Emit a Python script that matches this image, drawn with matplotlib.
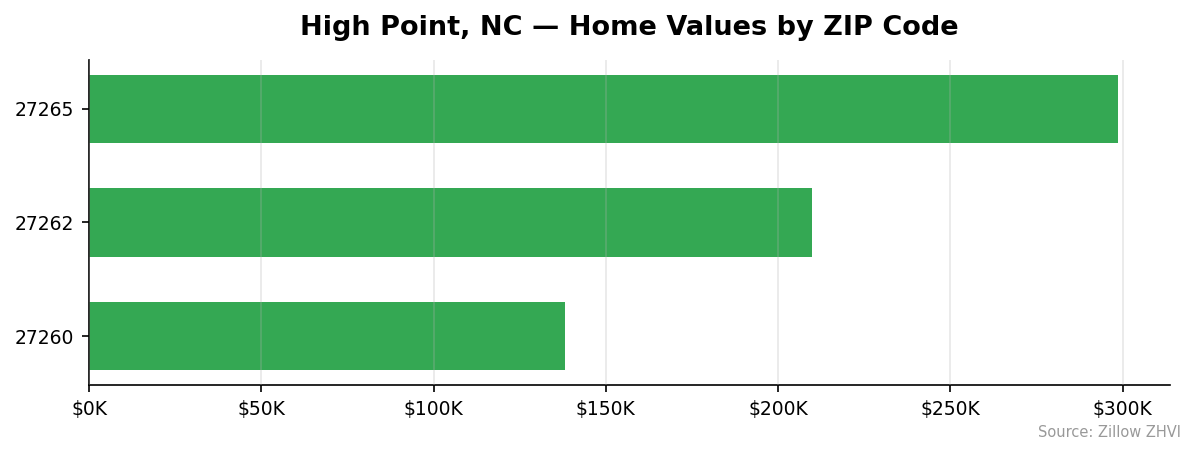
import matplotlib.pyplot as plt
from matplotlib.ticker import FuncFormatter

zips = ['27260', '27262', '27265']
values = [138200, 209900, 298800]

fig, ax = plt.subplots(figsize=(1195 / 150, 455 / 150), dpi=150)
ax.barh(zips, values, height=0.6, color='#34a853')
ax.xaxis.set_major_formatter(FuncFormatter(lambda v, p: f'${v/1000:.0f}K'))
ax.set_axisbelow(False)
ax.grid(axis='x', alpha=0.3)
ax.spines['top'].set_visible(False)
ax.spines['right'].set_visible(False)
ax.tick_params(labelsize=9)
ax.set_title('High Point, NC — Home Values by ZIP Code', fontsize=13, fontweight='bold', pad=12)
fig.subplots_adjust(left=0.0745, right=0.979, top=0.868, bottom=0.154)
fig.text(0.988, 0.032, 'Source: Zillow ZHVI', ha='right', va='bottom', fontsize=7, color='#999999')
fig.savefig('out.png')
